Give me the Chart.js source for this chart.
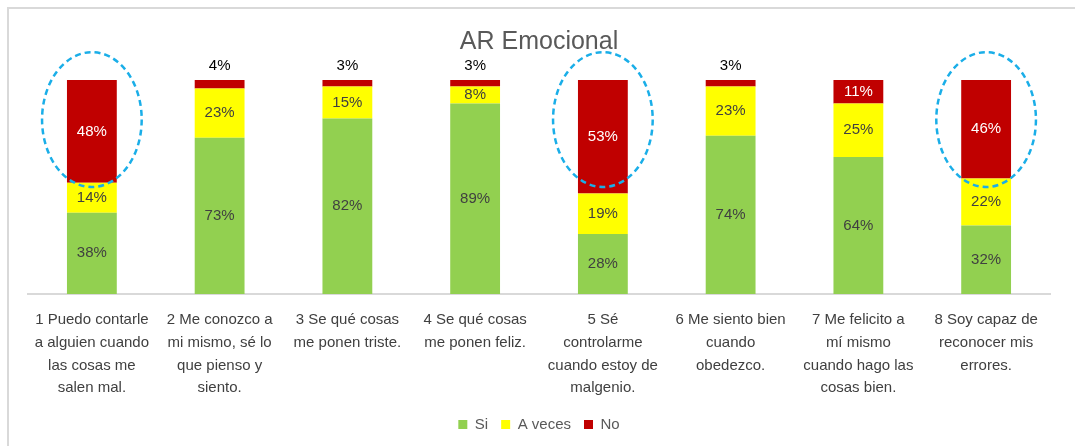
<!DOCTYPE html>
<html>
<head>
<meta charset="utf-8">
<title>AR Emocional</title>
<script src="https://cdn.jsdelivr.net/npm/chart.js@4"></script>
<style>
  html, body { margin: 0; padding: 0; background: #ffffff; }
  #wrap { position: relative; width: 1075px; height: 446px; }
</style>
</head>
<body>
<div id="wrap"><canvas id="graphique"></canvas></div>
<script>
// categories (ya cortadas en lineas como en el original)
const categorias = [
  ["1 Puedo contarle", "a alguien cuando", "las cosas me", "salen mal."],
  ["2 Me conozco a", "mi mismo, sé lo", "que pienso y", "siento."],
  ["3 Se qué cosas", "me ponen triste."],
  ["4 Se qué cosas", "me ponen feliz."],
  ["5 Sé", "controlarme", "cuando estoy de", "malgenio."],
  ["6 Me siento bien", "cuando", "obedezco."],
  ["7 Me felicito a", "mí mismo", "cuando hago las", "cosas bien."],
  ["8 Soy capaz de", "reconocer mis", "errores."]
];

// valores en %
const si = [38, 73, 82, 89, 28, 74, 64, 32];
const aVeces = [14, 23, 15, 8, 19, 23, 25, 22];
const no = [48, 4, 3, 3, 53, 3, 11, 46];

// barras marcadas con el circulo punteado
const barrasMarcadas = [0, 4, 7];

const FUENTE = "'Liberation Sans', Arial, sans-serif";

// marco gris (arriba y a la izquierda)
const marcoPlugin = {
  id: "marco",
  beforeDraw(chart) {
    const ctx = chart.ctx;
    ctx.save();
    ctx.fillStyle = "#ffffff";
    ctx.fillRect(0, 0, chart.width, chart.height);
    ctx.strokeStyle = "#d9d9d9";
    ctx.lineWidth = 2;
    ctx.beginPath();
    ctx.moveTo(8, chart.height);
    ctx.lineTo(8, 8);
    ctx.lineTo(chart.width, 8);
    ctx.stroke();
    ctx.restore();
  }
};

// etiquetas de valor (dentro de la barra, o encima si el segmento es muy chico)
const etiquetasPlugin = {
  id: "etiquetas",
  afterDatasetsDraw(chart) {
    const ctx = chart.ctx;
    ctx.save();
    ctx.font = "15px " + FUENTE;
    ctx.textAlign = "center";
    ctx.textBaseline = "middle";
    chart.data.datasets.forEach(function (ds, i) {
      const meta = chart.getDatasetMeta(i);
      meta.data.forEach(function (bar, j) {
        const v = ds.data[j];
        if (v < 5) {
          ctx.fillStyle = "#000000";
          ctx.fillText(v + "%", bar.x, bar.y - 14);
        } else {
          ctx.fillStyle = ds.colorEtiqueta;
          ctx.fillText(v + "%", bar.x, (bar.y + bar.base) / 2);
        }
      });
    });
    ctx.restore();
  }
};

// elipses punteadas azules alrededor del "No"
const elipsesPlugin = {
  id: "elipses",
  afterDatasetsDraw(chart) {
    const ctx = chart.ctx;
    const y = chart.scales.y;
    const meta = chart.getDatasetMeta(2);
    ctx.save();
    ctx.strokeStyle = "#1aaee8";
    ctx.lineWidth = 2.5;
    ctx.setLineDash([6, 4]);
    barrasMarcadas.forEach(function (j) {
      const bar = meta.data[j];
      const top = y.getPixelForValue(113);
      const bottom = y.getPixelForValue(50);
      ctx.beginPath();
      ctx.ellipse(bar.x, (top + bottom) / 2, bar.width, (bottom - top) / 2, 0, 0, Math.PI * 2);
      ctx.stroke();
    });
    ctx.restore();
  }
};

const data = {
  labels: categorias,
  datasets: [
    { label: "Si", data: si, backgroundColor: "#92d050", colorEtiqueta: "#404040" },
    { label: "A veces", data: aVeces, backgroundColor: "#ffff00", colorEtiqueta: "#404040" },
    { label: "No", data: no, backgroundColor: "#c00000", colorEtiqueta: "#ffffff" }
  ]
};

const config = {
  type: "bar",
  data: data,
  options: {
    responsive: false,
    animation: false,
    categoryPercentage: 1,
    barPercentage: 0.39,
    layout: { padding: { top: 12, left: 28, right: 25, bottom: 4 } },
    plugins: {
      title: {
        display: true,
        text: "AR Emocional",
        color: "#595959",
        font: { family: FUENTE, size: 25, weight: "normal" },
        padding: { top: 15, bottom: 23 }
      },
      legend: {
        position: "bottom",
        labels: {
          boxWidth: 9,
          boxHeight: 9,
          padding: 13,
          color: "#595959",
          font: { family: FUENTE, size: 15 }
        }
      },
      tooltip: { enabled: false }
    },
    scales: {
      x: {
        stacked: true,
        grid: { display: false, drawTicks: false },
        border: { display: true, color: "#d9d9d9", width: 2 },
        ticks: {
          autoSkip: false,
          maxRotation: 0,
          padding: 14,
          color: "#404040",
          font: { family: FUENTE, size: 15, lineHeight: 1.53 }
        },
        afterFit(scale) { scale.height = 110; }
      },
      y: {
        stacked: true,
        display: false,
        min: 0,
        max: 100
      }
    }
  },
  plugins: [marcoPlugin, etiquetasPlugin, elipsesPlugin]
};

const canvas = document.getElementById("graphique");
canvas.width = 1075;
canvas.height = 446;
new Chart(canvas, config);
</script>
</body>
</html>
